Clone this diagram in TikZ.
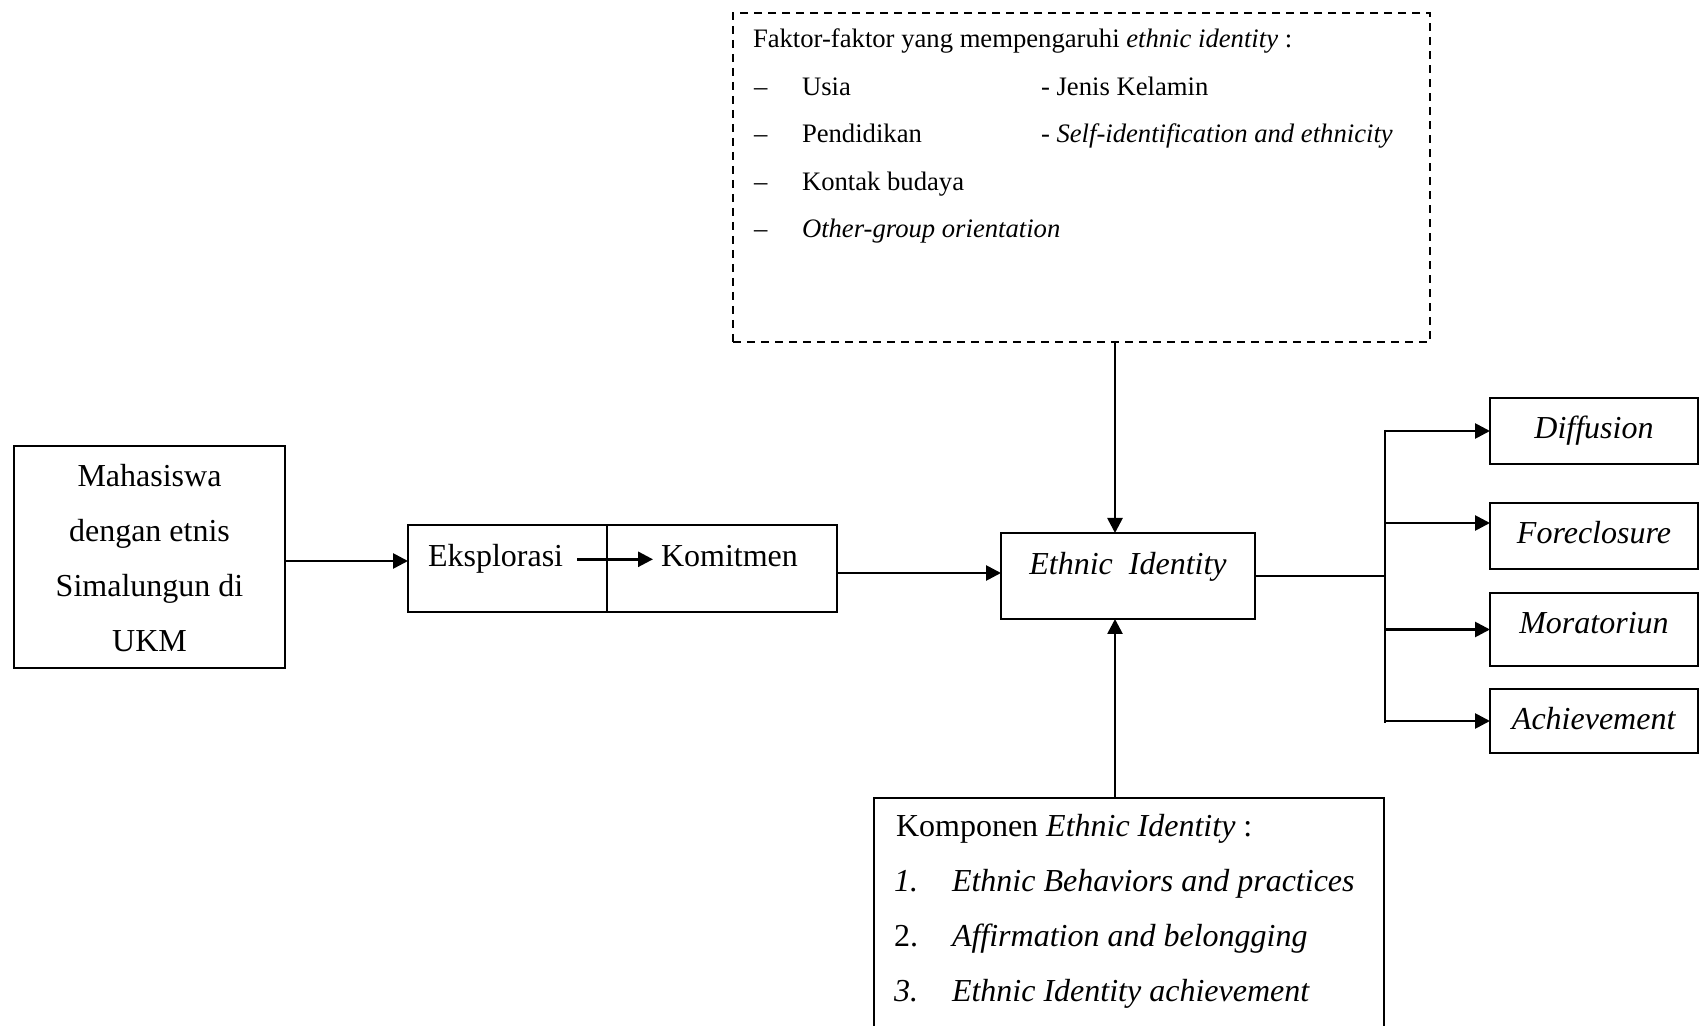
\documentclass[tikz,border=0pt]{standalone}
\usepackage{fontspec}
\setmainfont{Liberation Serif}
\usetikzlibrary{arrows.meta,calc}
\begin{document}
\begin{tikzpicture}[x=0.5pt,y=-0.5pt,
  box/.style={draw,line width=1pt,inner sep=0pt,outer sep=0pt},
  dbox/.style={draw,line width=0.8pt,dash pattern=on 4pt off 3pt,inner sep=0pt,outer sep=0pt},
  lbl/.style={inner sep=0pt,outer sep=0pt,font=\fontsize{16}{27.5}\selectfont},
  sml/.style={inner sep=0pt,outer sep=0pt,font=\fontsize{13.33}{23.75}\selectfont,anchor=base west},
  arr/.style={line width=1.35pt,-{Triangle[length=7.5pt,width=7.5pt]}},
  ln/.style={line width=0.9pt}]
\useasboundingbox (0,0) rectangle (1699,1026);
\clip (0,0) rectangle (1699,1026);
% boxes
\node[box,minimum width=135.5pt,minimum height=111pt] (mhs) at (149.5,557) {};
\node[box,minimum width=99.5pt,minimum height=43.5pt] (eks) at (507.5,568.5) {};
\node[box,minimum width=115pt,minimum height=43.5pt] (kom) at (722,568.5) {};
\node[box,minimum width=127pt,minimum height=43pt] (ei) at (1128,576) {};
\node[dbox,minimum width=348.5pt,minimum height=164.5pt] (faktor) at (1081.5,177.5) {};
\node[box,minimum width=255pt,minimum height=124pt] (komp) at (1129,922) {};
\node[box,minimum width=104pt,minimum height=33pt] (dif) at (1594,431) {};
\node[box,minimum width=104pt,minimum height=33pt] (fore) at (1594,536) {};
\node[box,minimum width=104pt,minimum height=36.5pt] (mor) at (1594,629.5) {};
\node[box,minimum width=104pt,minimum height=32pt] (ach) at (1594,721) {};
% left box text
\node[lbl,anchor=base] (m1) at (149.5,487) {Mahasiswa};
\node[lbl,anchor=base] (m2) at (149.5,542) {dengan etnis};
\node[lbl,anchor=base] (m3) at (149.5,597) {Simalungun di};
\node[lbl,anchor=base] (m4) at (149.5,652) {UKM};
% eksplorasi / komitmen
\node[lbl,anchor=base west] (eksT) at (428,567) {Eksplorasi};
\node[lbl,anchor=base west] (komT) at (661,567) {Komitmen};
% ethnic identity
\node[lbl,anchor=base] (eiT) at (1128,575) {\textit{Ethnic~~Identity}};
% outcomes
\node[lbl,anchor=base] (difT) at (1594,439) {\textit{Diffusion}};
\node[lbl,anchor=base] (foreT) at (1594,544) {\textit{Foreclosure}};
\node[lbl,anchor=base] (morT) at (1594,634) {\textit{Moratoriun}};
\node[lbl,anchor=base] (achT) at (1594,729) {\textit{Achievement}};
% faktor text
\node[sml] (f0) at (753,48) {Faktor-faktor yang mempengaruhi \textit{ethnic identity} :};
\node[sml] (d1) at (754,95.5) {–};
\node[sml] (d2) at (754,143) {–};
\node[sml] (d3) at (754,190.5) {–};
\node[sml] (d4) at (754,238) {–};
\node[sml] (i1) at (802,95.5) {Usia};
\node[sml] (i2) at (802,143) {Pendidikan};
\node[sml] (i3) at (802,190.5) {Kontak budaya};
\node[sml] (i4) at (802,238) {\textit{Other-group orientation}};
\node[sml] (c1) at (1041,95.5) {- Jenis Kelamin};
\node[sml] (c2) at (1041,143) {- \textit{Self-identification and ethnicity}};
% komponen text
\node[lbl,anchor=base west] (k0) at (896,836) {Komponen \textit{Ethnic Identity} :};
\node[lbl,anchor=base west] (n1) at (894,891) {\textit{1.}};
\node[lbl,anchor=base west] (n2) at (894,946) {2.};
\node[lbl,anchor=base west] (n3) at (894,1001) {\textit{3.}};
\node[lbl,anchor=base west] (k1) at (952,891) {\textit{Ethnic Behaviors and practices}};
\node[lbl,anchor=base west] (k2) at (952,946) {\textit{Affirmation and belongging}};
\node[lbl,anchor=base west] (k3) at (952,1001) {\textit{Ethnic Identity achievement}};
% connectors
\coordinate (vx) at (1115,0);
\coordinate (bus) at (1385,0);
\draw[arr] ($(mhs.east)+(0,4)$) -- ($(mhs.east -| eks.west)+(0,4)$);
\draw[arr,shorten <=7pt,shorten >=4pt] (eksT.east) -- (eksT.east -| komT.west);
\draw[arr] ($(kom.east)+(0,4.5)$) -- ($(kom.east -| ei.west)+(0,4.5)$);
\draw[arr] (faktor.south -| vx) -- (ei.north -| vx);
\draw[arr] (komp.north -| vx) -- (ei.south -| vx);
\draw[ln] (ei.east) -- (ei.east -| bus);
\draw[ln] ($(bus |- dif.west)+(0,-1)$) -- ($(bus |- ach.west)+(0,2)$);
\draw[arr] (bus |- dif.west) -- (dif.west);
\draw[arr] ($(bus |- fore.west)+(0,-13)$) -- ($(fore.west)+(0,-13)$);
\draw[arr] (bus |- mor.west) -- (mor.west);
\draw[arr] (bus |- ach.west) -- (ach.west);
\end{tikzpicture}
\end{document}
